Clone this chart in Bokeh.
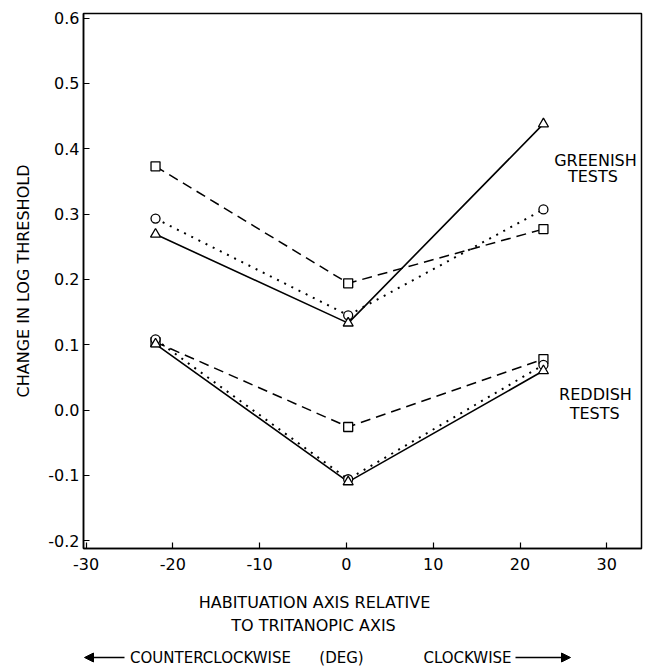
from bokeh.plotting import figure
from bokeh.models import Label, Arrow, NormalHead, FixedTicker
from bokeh.layouts import column
from bokeh.embed import file_html
from bokeh.resources import INLINE

# ---- data ----
x_axis_deg = [-22.0, 0.2, 22.7]

green_square = [0.373, 0.194, 0.277]
green_circle = [0.293, 0.145, 0.307]
green_triangle = [0.269, 0.133, 0.438]

red_square = [0.104, -0.026, 0.078]
red_circle = [0.108, -0.106, 0.069]
red_triangle = [0.101, -0.110, 0.060]

x_ticks = [-30, -20, -10, 0, 10, 20, 30]
x_tick_labels = ["-30", "-20", "-10", "0", "10", "20", "30"]
y_ticks = [-0.2, -0.1, 0.0, 0.1, 0.2, 0.3, 0.4, 0.5, 0.6]
y_tick_labels = ["-0.2", "-0.1", "0.0", "0.1", "0.2", "0.3", "0.4", "0.5", "0.6"]

x_title_lines = ["HABITUATION AXIS RELATIVE", "TO TRITANOPIC AXIS"]
direction_texts = ["COUNTERCLOCKWISE", "(DEG)", "CLOCKWISE"]

FONT = "DejaVu Sans"
FS = "16px"

p = figure(width=645, height=585, x_range=(-30.3, 34.0), y_range=(-0.212, 0.607),
           output_backend="svg", toolbar_location=None,
           min_border_left=83, min_border_right=4, min_border_top=13, min_border_bottom=37)

p.grid.visible = False
p.outline_line_color = "black"
p.outline_line_width = 1.5
p.background_fill_color = "white"
p.border_fill_color = "white"

for ax in (p.xaxis[0], p.yaxis[0]):
    ax.major_tick_in = 6
    ax.major_tick_out = 0
    ax.minor_tick_line_color = None
    ax.axis_line_color = "black"
    ax.axis_line_width = 1.5
    ax.major_tick_line_color = "black"
    ax.major_tick_line_width = 1.2
    ax.major_label_text_font = FONT
    ax.major_label_text_font_size = FS
    ax.major_label_text_color = "black"

p.xaxis.ticker = FixedTicker(ticks=x_ticks)
p.xaxis.major_label_overrides = {t: l for t, l in zip(x_ticks, x_tick_labels)}
p.xaxis.major_label_standoff = 9

p.yaxis.ticker = FixedTicker(ticks=y_ticks)
p.yaxis.major_label_overrides = {t: l for t, l in zip(y_ticks, y_tick_labels)}
p.yaxis.major_label_standoff = 4
p.yaxis.axis_label = "CHANGE IN LOG THRESHOLD"
p.yaxis.axis_label_text_font = FONT
p.yaxis.axis_label_text_font_size = FS
p.yaxis.axis_label_text_font_style = "normal"
p.yaxis.axis_label_text_color = "black"
p.yaxis.axis_label_standoff = 12

# lines
series = [
    (green_square, "dashed"), (green_circle, "dotted"), (green_triangle, "solid"),
    (red_square, "dashed"), (red_circle, "dotted"), (red_triangle, "solid"),
]
for ys, style in series:
    if style == "dashed":
        p.line(x_axis_deg, ys, line_color="black", line_width=1.5, line_dash="10 6")
    elif style == "dotted":
        p.line(x_axis_deg, ys, line_color="black", line_width=2.0, line_dash="2 6")
    else:
        p.line(x_axis_deg, ys, line_color="black", line_width=1.6)

# markers
for ys in (green_square, red_square):
    p.scatter(x_axis_deg, ys, marker="square", size=9, fill_color="white",
              line_color="black", line_width=1.3)
for ys in (green_circle, red_circle):
    p.scatter(x_axis_deg, ys, marker="circle", size=9, fill_color="white",
              line_color="black", line_width=1.3)
for ys in (green_triangle, red_triangle):
    p.scatter(x_axis_deg, ys, marker="triangle", size=10, fill_color="white",
              line_color="black", line_width=1.3)

def lab(fig, x, y, t, fs=FS):
    fig.add_layout(Label(x=x, y=y, text=t, text_align="center", text_baseline="middle",
                         text_font=FONT, text_font_size=fs, text_color="black"))

lab(p, 28.7, 0.382, "GREENISH")
lab(p, 28.4, 0.357, "TESTS")
lab(p, 28.7, 0.023, "REDDISH")
lab(p, 28.6, -0.005, "TESTS")

# ---- panel below for the axis title and direction arrows ----
# (its frame is aligned with the main frame, so the range spans page x 83..641)
p2 = figure(width=645, height=83, x_range=(83, 641), y_range=(83, 0),
            output_backend="svg", toolbar_location=None,
            min_border_left=83, min_border_right=4, min_border_top=0, min_border_bottom=0)
p2.axis.visible = False
p2.grid.visible = False
p2.outline_line_color = None
p2.background_fill_color = "white"
p2.border_fill_color = "white"

lab(p2, 314, 17, x_title_lines[0])
lab(p2, 313, 40, x_title_lines[1])
lab(p2, 210, 72, direction_texts[0], "15px")
lab(p2, 341, 72, direction_texts[1], "15px")
lab(p2, 467, 72, direction_texts[2], "15px")

p2.add_layout(Arrow(x_start=124, y_start=72, x_end=84, y_end=72,
                    line_color="black", line_width=1.5,
                    end=NormalHead(size=9, fill_color="black", line_color="black")))
p2.add_layout(Arrow(x_start=515, y_start=72, x_end=570, y_end=72,
                    line_color="black", line_width=1.5,
                    end=NormalHead(size=9, fill_color="black", line_color="black")))

layout = column(p, p2, spacing=0)
open("out.html", "w").write(file_html(layout, INLINE))
